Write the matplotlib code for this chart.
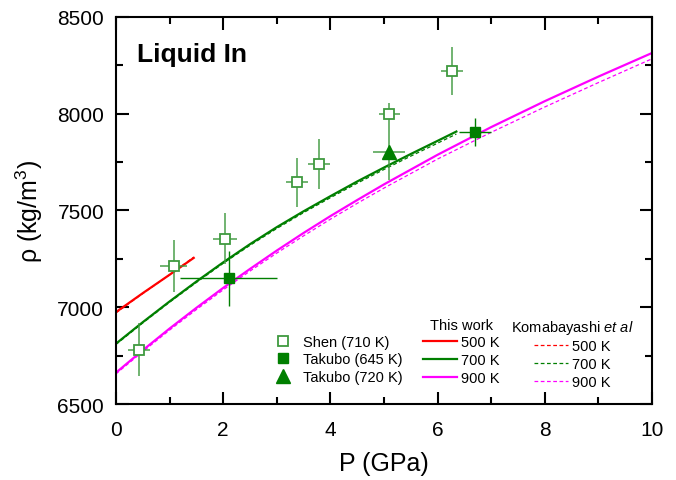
import matplotlib
matplotlib.use("Agg")
import matplotlib.pyplot as plt
from matplotlib.lines import Line2D

plt.rcParams['font.family'] = ['Liberation Sans', 'DejaVu Sans']
plt.rcParams['mathtext.fontset'] = 'custom'
plt.rcParams['mathtext.rm'] = 'Liberation Sans'
plt.rcParams['mathtext.it'] = 'Liberation Sans:italic'

# Shen (710 K): pressure, density and uncertainties
shen_p = [0.43, 1.08, 2.03, 3.38, 3.79, 5.10, 6.27]
shen_rho = [6780, 7215, 7355, 7645, 7740, 7998, 8222]
shen_perr = [0.20, 0.25, 0.22, 0.20, 0.21, 0.20, 0.20]
shen_rerr = [137, 135, 130, 125, 130, 55, 123]

# Takubo (645 K)
tk645_p = [2.10, 6.69]
tk645_rho = [7150, 7905]
tk645_perr = [0.90, 0.30]
tk645_rerr = [142, 72]

# Takubo (720 K)
tk720_p = [5.09]
tk720_rho = [7800]
tk720_perr = [0.30]
tk720_rerr = [140]

# This work: isotherms
p500 = [0.0, 0.5, 1.0, 1.45]
rho500 = [6975, 7073, 7168, 7255]
p700 = [0.0, 0.5, 1.0, 1.5, 2.0, 2.5, 3.0, 3.5, 4.0, 4.5, 5.0, 5.5, 6.0, 6.35]
rho700 = [6812, 6923, 7030, 7133, 7232, 7326, 7414, 7496, 7574, 7650, 7722,
          7792, 7860, 7908]
p900 = [0, 0.5, 1, 1.5, 2, 2.5, 3, 3.5, 4, 4.5, 5, 6, 7, 8, 9, 10]
rho900 = [6662, 6778, 6890, 6997, 7100, 7198, 7293, 7384, 7471, 7554, 7635,
          7788, 7931, 8065, 8192, 8314]

# Komabayashi et al: isotherms
k500_p = [0.0, 0.5, 1.0, 1.45]
k500_rho = [6971, 7071, 7168, 7259]
k700_p = [0.0, 0.5, 1.0, 1.5, 2.0, 2.5, 3.0, 3.5, 4.0, 4.5, 5.0, 5.5, 6.0, 6.35]
k700_rho = [6808, 6919, 7026, 7128, 7227, 7320, 7407, 7489, 7566, 7641, 7712,
            7781, 7848, 7895]
k900_p = [0, 0.5, 1, 1.5, 2, 2.5, 3, 3.5, 4, 4.5, 5, 6, 7, 8, 9, 10]
k900_rho = [6656, 6771, 6882, 6988, 7090, 7187, 7280, 7369, 7455, 7537, 7616,
            7766, 7904, 8035, 8161, 8284]

RED, GREEN, MAG = '#ff0000', '#007f00', '#ff00ff'
LIGHT = '#3f9a3f'
DASH = (0, (3, 2))

fig = plt.figure(figsize=(6.76, 4.81), dpi=100)
ax = fig.add_axes([0.1716, 0.158, 0.7929, 0.8046])

# isotherm curves
ax.plot(k500_p, k500_rho, color=RED, lw=0.9, ls=DASH)
ax.plot(k700_p, k700_rho, color=GREEN, lw=0.9, ls=DASH)
ax.plot(k900_p, k900_rho, color=MAG, lw=0.9, ls=DASH)
ax.plot(p500, rho500, color=RED, lw=1.6)
ax.plot(p700, rho700, color=GREEN, lw=1.6)
ax.plot(p900, rho900, color=MAG, lw=1.6)

# experimental points
ax.errorbar(shen_p, shen_rho, xerr=shen_perr, yerr=shen_rerr, fmt='none',
            ecolor=LIGHT, elinewidth=1.3, alpha=0.8, zorder=4)
ax.plot(shen_p, shen_rho, ls='none', marker='s', ms=7.5, mfc='white',
        mec=LIGHT, mew=1.3, zorder=5)
ax.errorbar(tk645_p, tk645_rho, xerr=tk645_perr, yerr=tk645_rerr, fmt='none',
            ecolor=GREEN, elinewidth=1.0, zorder=4)
ax.plot(tk645_p, tk645_rho, ls='none', marker='s', ms=7.5, color=GREEN, zorder=5)
ax.errorbar(tk720_p, tk720_rho, xerr=tk720_perr, yerr=tk720_rerr, fmt='none',
            ecolor=LIGHT, elinewidth=1.3, alpha=0.8, zorder=4)
ax.plot(tk720_p, tk720_rho, ls='none', marker='^', ms=10, color=GREEN, zorder=5)

ax.set_xlim(0, 10)
ax.set_ylim(6500, 8500)
ax.set_xticks([0, 2, 4, 6, 8, 10])
ax.set_xticks([1, 3, 5, 7, 9], minor=True)
ax.set_yticks([6500, 7000, 7500, 8000, 8500])
ax.set_yticks([6750, 7250, 7750, 8250], minor=True)
ax.tick_params(which='both', direction='in', top=True, right=True,
               width=1.5, labelsize=15)
ax.tick_params(axis='x', which='major', pad=11.5)
ax.tick_params(axis='y', which='major', pad=8.5)
ax.tick_params(which='major', length=9)
ax.tick_params(which='minor', length=5)
for s in ax.spines.values():
    s.set_linewidth(1.5)

ax.set_xlabel('P (GPa)', fontsize=18, labelpad=9)
ax.set_ylabel(r'$\mathrm{\rho}$ (kg/m$^3$)', fontsize=18, labelpad=9)
ax.text(0.04, 0.905, 'Liquid In', transform=ax.transAxes, fontsize=19,
        fontweight='bold', va='center')

# legends
FS = 10.5
h_exp = [Line2D([], [], ls='none', marker='s', ms=7.5, mfc='white', mec=LIGHT, mew=1.3),
         Line2D([], [], ls='none', marker='s', ms=7.5, color=GREEN),
         Line2D([], [], ls='none', marker='^', ms=10, color=GREEN)]
leg1 = ax.legend(h_exp, ['Shen (710 K)', 'Takubo (645 K)', 'Takubo (720 K)'],
                 loc='upper left', bbox_to_anchor=(0.287, 0.194), frameon=False,
                 fontsize=FS, handlelength=1.0, handletextpad=0.9,
                 labelspacing=0.25, borderaxespad=0)
ax.add_artist(leg1)

h_tw = [Line2D([], [], color=c, lw=1.6) for c in (RED, GREEN, MAG)]
leg2 = ax.legend(h_tw, ['500 K', '700 K', '900 K'], title='This work',
                 loc='upper left', bbox_to_anchor=(0.5616, 0.238), frameon=False,
                 fontsize=FS, title_fontsize=FS, handlelength=2.33,
                 handletextpad=0.27, labelspacing=0.25, borderaxespad=0)
ax.add_artist(leg2)

h_ko = [Line2D([], [], color=c, lw=0.9, ls=DASH) for c in (RED, GREEN, MAG)]
leg3 = ax.legend(h_ko, ['500 K', '700 K', '900 K'], title=r'Komabayashi $\mathit{et\ al}$',
                 loc='upper left', bbox_to_anchor=(0.7257, 0.238), frameon=False,
                 fontsize=FS, title_fontsize=FS, handlelength=2.33,
                 handletextpad=0.27, labelspacing=0.25, borderaxespad=0)

fig.savefig('out.png', dpi=100)
